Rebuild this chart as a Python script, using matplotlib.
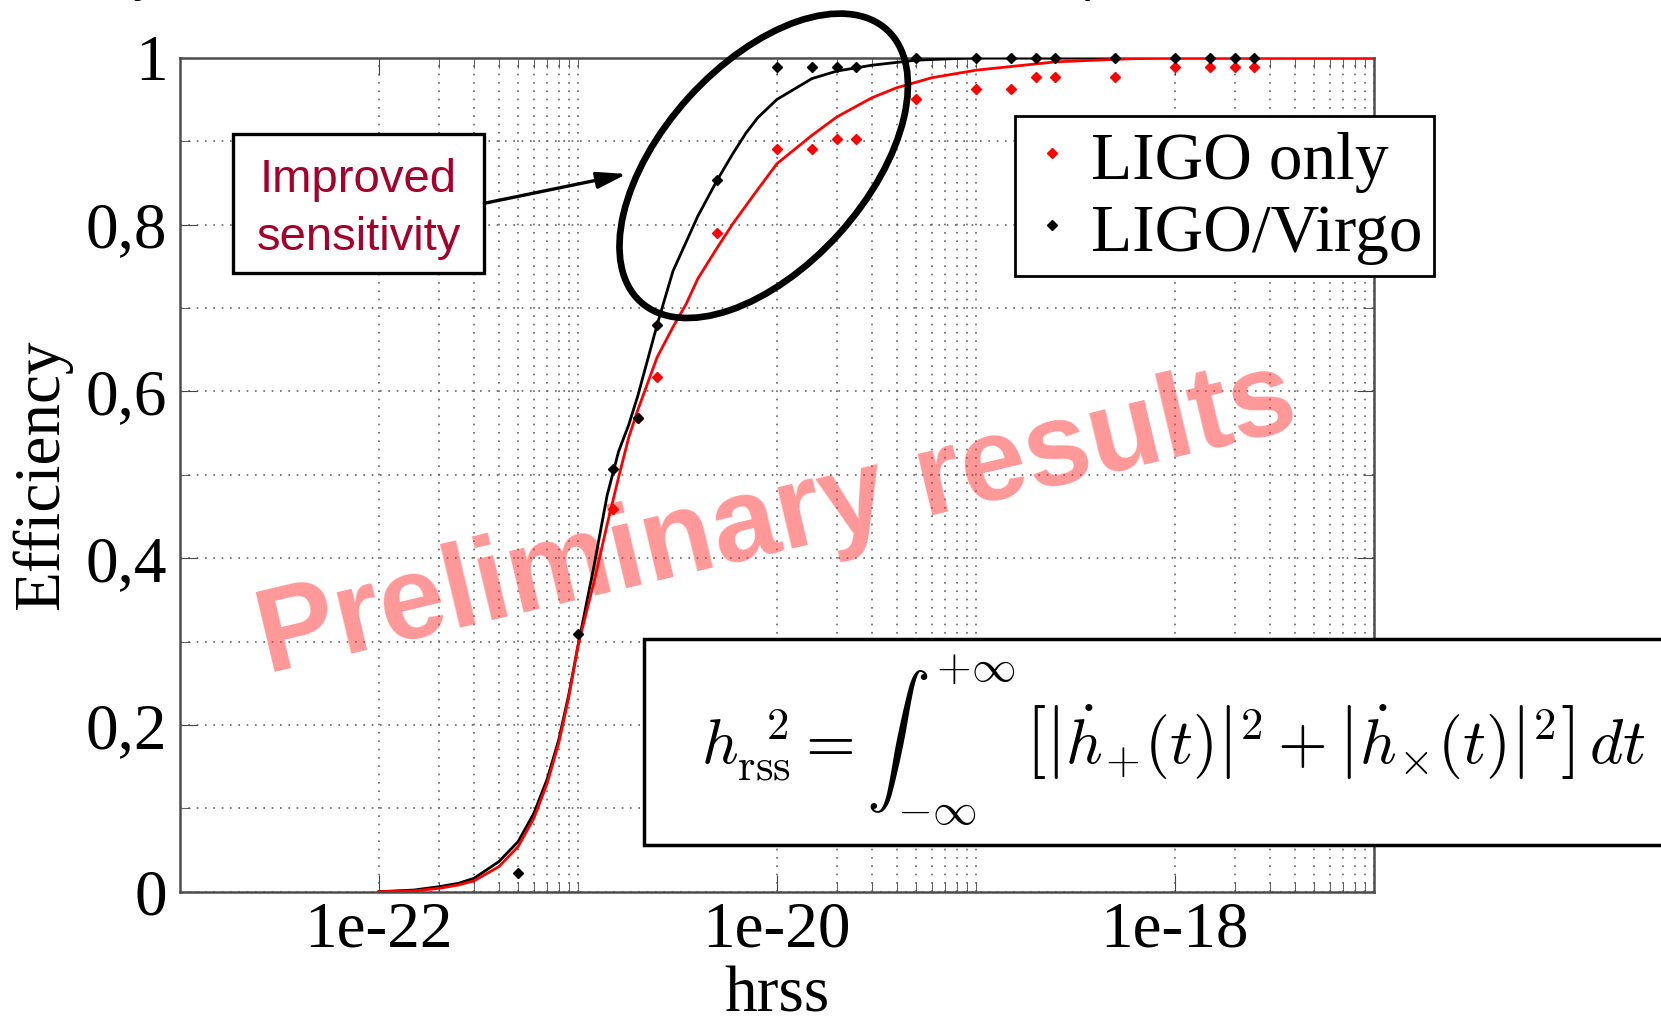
import matplotlib
matplotlib.use('Agg')
import matplotlib.pyplot as plt
from matplotlib.patches import Ellipse, Rectangle, FancyArrowPatch
from matplotlib.lines import Line2D
from matplotlib.ticker import FixedLocator, FixedFormatter, NullFormatter

plt.rcParams['font.family'] = ['Liberation Serif', 'DejaVu Serif']
plt.rcParams['mathtext.fontset'] = 'cm'

# fitted efficiency curves
fit_hrss_virgo = [1e-22, 1.5e-22, 2e-22, 2.5e-22, 3e-22, 4e-22, 5e-22, 6e-22, 7e-22, 8e-22,
                  9e-22, 1e-21, 1.2e-21, 1.4e-21, 1.6e-21, 1.8e-21, 2e-21, 2.5e-21, 3e-21,
                  4e-21, 5e-21, 6e-21, 7e-21, 8e-21, 1e-20, 1.5e-20, 2e-20, 3e-20, 5e-20,
                  1e-19, 1e-17]
fit_eff_virgo = [0.0, 0.002, 0.006, 0.010, 0.016, 0.036, 0.060, 0.094, 0.135, 0.182,
                 0.237, 0.295, 0.389, 0.475, 0.528, 0.560, 0.595, 0.680, 0.744,
                 0.810, 0.853, 0.885, 0.910, 0.928, 0.950, 0.975, 0.984, 0.991, 0.997,
                 1.0, 1.0]
fit_hrss_ligo = [1e-22, 1.5e-22, 2e-22, 2.5e-22, 3e-22, 4e-22, 5e-22, 6e-22, 7e-22, 8e-22,
                 9e-22, 1e-21, 1.2e-21, 1.4e-21, 1.6e-21, 1.8e-21, 2e-21, 2.5e-21, 3e-21,
                 3.5e-21, 4e-21, 5e-21, 6e-21, 8e-21, 1e-20, 1.5e-20, 2e-20, 3e-20, 4e-20,
                 6e-20, 1e-19, 2.5e-19, 5e-19, 8.5e-19, 1e-17]
fit_eff_ligo = [0.0, 0.001, 0.004, 0.008, 0.013, 0.030, 0.054, 0.088, 0.130, 0.178,
                0.234, 0.295, 0.370, 0.440, 0.497, 0.545, 0.578, 0.641, 0.677,
                0.705, 0.735, 0.772, 0.801, 0.842, 0.873, 0.907, 0.929, 0.952, 0.964,
                0.976, 0.985, 0.995, 0.998, 1.0, 1.0]

# injection points
hrss_virgo = [5e-22, 1e-21, 1.5e-21, 2e-21, 2.5e-21, 5e-21, 1e-20, 1.5e-20, 2e-20, 2.5e-20,
              5e-20, 1e-19, 1.5e-19, 2e-19, 2.5e-19, 5e-19, 1e-18, 1.5e-18, 2e-18, 2.5e-18]
eff_virgo = [0.023, 0.309, 0.507, 0.568, 0.680, 0.853, 0.9885, 0.9885, 0.9885, 0.9885,
             1.0, 1.0, 1.0, 1.0, 1.0, 1.0, 1.0, 1.0, 1.0, 1.0]
hrss_ligo = [1.5e-21, 2e-21, 2.5e-21, 5e-21, 1e-20, 1.5e-20, 2e-20, 2.5e-20,
             5e-20, 1e-19, 1.5e-19, 2e-19, 2.5e-19, 5e-19, 1e-18, 1.5e-18, 2e-18, 2.5e-18]
eff_ligo = [0.4585, 0.568, 0.617, 0.790, 0.8906, 0.8906, 0.9025, 0.9025,
            0.9505, 0.9625, 0.9625, 0.977, 0.977, 0.977, 0.9885, 0.9885, 0.9885, 0.9885]

xticks = [1e-22, 1e-20, 1e-18]
xtick_labels = ['1e-22', '1e-20', '1e-18']
yticks = [0, 0.2, 0.4, 0.6, 0.8, 1]
ytick_labels = ['0', '0,2', '0,4', '0,6', '0,8', '1']
legend_labels = ['LIGO only', 'LIGO/Virgo']

W, H = 1661, 1017
fig = plt.figure(figsize=(W / 100, H / 100), dpi=100)
ax = fig.add_axes([180 / W, 1 - 891.7 / H, 1194 / W, 834 / H])


def px(x, y):
    # pixel position (from top-left) -> inches for dpi_scale_trans
    return (x / 100, (H - y) / 100)


ax.plot(fit_hrss_virgo, fit_eff_virgo, color='black', lw=2.0, zorder=3)
ax.plot(fit_hrss_ligo, fit_eff_ligo, color='red', lw=2.0, zorder=3.1)
ax.plot(hrss_ligo, eff_ligo, 'D', color='red', ms=5.5, clip_on=False, zorder=4)
ax.plot(hrss_virgo, eff_virgo, 'D', color='black', ms=5.5, clip_on=False, zorder=4.1)

ax.set_xscale('log')
ax.set_xlim(1e-23, 1e-17)
ax.set_ylim(0, 1)
ax.xaxis.set_major_locator(FixedLocator(xticks))
ax.xaxis.set_major_formatter(FixedFormatter(xtick_labels))
ax.xaxis.set_minor_locator(FixedLocator([k * 10.0 ** m for m in (-22, -20, -18) for k in range(2, 11)]))
ax.xaxis.set_minor_formatter(NullFormatter())
ax.yaxis.set_major_locator(FixedLocator(yticks))
ax.yaxis.set_major_formatter(FixedFormatter(ytick_labels))
ax.yaxis.set_minor_locator(FixedLocator([0.1, 0.3, 0.5, 0.7, 0.9]))

ax.grid(True, which='both', color='#666666', linestyle=(0, (1, 4)), linewidth=1.2)
ax.set_axisbelow(True)
ax.tick_params(which='both', direction='in', top=True, right=True, color='#444444')
ax.tick_params(which='major', length=12, labelsize=47, pad=7)
ax.tick_params(axis='y', which='major', pad=9)
ax.tick_params(which='minor', length=7)
for sp in ax.spines.values():
    sp.set_color('#4d4d4d')
    sp.set_linewidth(1.8)

ax.set_xlabel('hrss', fontsize=47)
ax.xaxis.set_label_coords(0.5, -0.089)
ax.set_ylabel('Efficiency', fontsize=47)
ax.yaxis.set_label_coords(-0.0905, 0.5)

handles = [Line2D([], [], marker='D', ls='none', color='red', ms=5.5),
           Line2D([], [], marker='D', ls='none', color='black', ms=5.5)]
leg = ax.legend(handles, legend_labels, loc='upper left',
                bbox_to_anchor=(1015 / W, 1 - 116 / H), bbox_transform=fig.transFigure,
                fontsize=48.5, frameon=True, fancybox=False, edgecolor='black', framealpha=1,
                borderpad=0.17, handlelength=0.76, handleheight=0.9, handletextpad=0.2,
                labelspacing=0.1, borderaxespad=0)
leg.get_frame().set_linewidth(2)
leg.set_zorder(6)

# watermark
ax.text(784 / W, 1 - 551 / H, 'Preliminary results', transform=fig.transFigure,
        fontsize=85, fontweight='bold', family='Liberation Sans', color='#ff3333', alpha=0.5,
        rotation=13.4, rotation_mode='anchor', ha='center', va='baseline', zorder=2, clip_on=False)

# cut-off line of slide text above the chart
fig.text(133 / W, 1 + 9 / H, 'y', fontsize=36, family='Liberation Sans', ha='left', va='baseline')
fig.text(1082 / W, 1 + 9 / H, 'p', fontsize=36, family='Liberation Sans', ha='left', va='baseline')

# annotation box and arrow
tr = fig.dpi_scale_trans
fig.add_artist(Rectangle(px(232.7, 272.7), 251.6 / 100, 138.7 / 100, transform=tr,
                         facecolor='white', edgecolor='black', lw=2.4))
for txt, yb in (('Improved', 192.3), ('sensitivity', 250.0)):
    fig.text(358.5 / W, 1 - yb / H, txt, fontsize=34, family='Liberation Sans',
             color='#a5002a', ha='center', va='baseline')
fig.add_artist(FancyArrowPatch(px(484.3, 203.3), px(626.7, 174), transform=tr,
                               arrowstyle='-|>,head_length=0.9,head_width=0.25',
                               mutation_scale=20, lw=2.4, color='black',
                               shrinkA=0, shrinkB=0))
fig.add_artist(Ellipse(px(763.7, 165.8), 367 / 100, 203 / 100, angle=47.9, transform=tr,
                       fill=False, edgecolor='black', lw=4.8))

# formula box
fig.add_artist(Rectangle(px(644, 845.3), 1100 / 100, 206.5 / 100, transform=tr,
                         facecolor='white', edgecolor='black', lw=2.5))
fig.text(701 / W, 1 - 765 / H,
         r'$h_{\mathrm{rss}}^{\;\;2} = \int_{-\infty}^{+\infty}\, \left[\left|\dot{h}_{+}(t)\right|^{2}'
         r' + \left|\dot{h}_{\times}(t)\right|^{2}\right]\, dt$',
         fontsize=46, ha='left', va='baseline')

fig.savefig('out.png', dpi=100)
